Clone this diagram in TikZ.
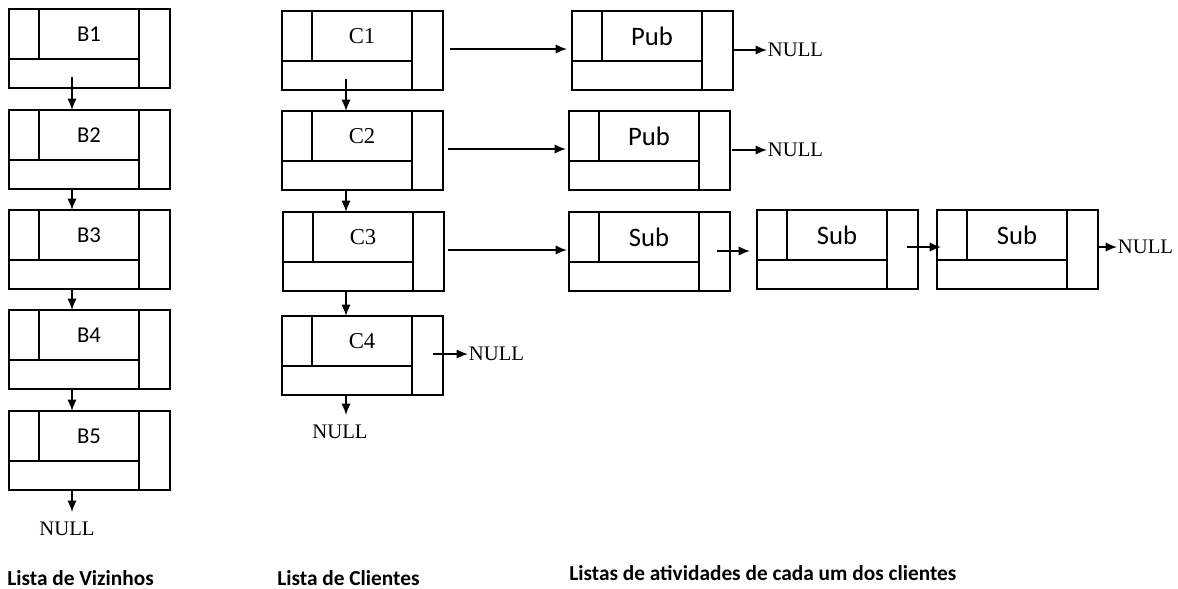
\documentclass[tikz,border=0pt]{standalone}
\usepackage{fontspec}
\setmainfont{Liberation Serif}
\newfontfamily\carlito{Carlito}
\usetikzlibrary{calc,arrows.meta}
\newcommand\listnode[5]{%
  \node[cellbox] (#1) at (#2,#3) {};
  \draw[divider] ($(#1.north west)+(30,0)$) -- ($(#1.north west)+(30,50)$);
  \draw[divider] ($(#1.north west)+(0,50)$) -- ($(#1.north west)+(130,50)$);
  \draw[divider] ($(#1.north west)+(130,0)$) -- ($(#1.south west)+(130,0)$);
  \node[#4] (#1t) at ($(#1.north west)+(80,25)$) {#5};
}
\begin{document}
\begin{tikzpicture}[x=0.75pt,y=-0.75pt,
  cellbox/.style={draw,line width=1.25pt,minimum width=120.75pt,minimum height=59.25pt,inner sep=0pt,outer sep=0pt,anchor=north west},
  divider/.style={line width=1.25pt},
  arr/.style={line width=1.3pt,-{Latex[length=8.5pt,width=7pt]}},
  btext/.style={font=\carlito\fontsize{17}{20}\selectfont,inner sep=0pt},
  ctext/.style={font=\fontsize{17}{20}\selectfont,inner sep=0pt},
  ptext/.style={font=\carlito\fontsize{20}{24}\selectfont,inner sep=0pt},
  nullr/.style={font=\fontsize{15.5}{18}\selectfont,inner sep=0.5pt,anchor=west},
  nulld/.style={font=\fontsize{15.5}{18}\selectfont,inner xsep=0pt,inner ysep=7pt,anchor=north},
  lbl/.style={font=\carlito\bfseries\fontsize{16}{19}\selectfont,anchor=base west,inner sep=0pt}
]
\useasboundingbox (0,0) rectangle (1178,589);

% Lista de Vizinhos
\listnode{b1}{9}{9}{btext}{B1}
\listnode{b2}{9}{110}{btext}{B2}
\listnode{b3}{9}{210}{btext}{B3}
\listnode{b4}{9}{310}{btext}{B4}
\listnode{b5}{9}{411}{btext}{B5}
\node[nulld] (nb) at (67,512) {NULL};

\draw[arr] ($(b1.south west)+(63,-11)$) -- ($(b2.north west)+(63,0)$);
\draw[arr] ($(b2.south west)+(63,0)$) -- ($(b3.north west)+(63,0)$);
\draw[arr] ($(b3.south west)+(63,0)$) -- ($(b4.north west)+(63,0)$);
\draw[arr] ($(b4.south west)+(63,0)$) -- ($(b5.north west)+(63,0)$);
\draw[arr] ($(b5.south west)+(63,0)$) coordinate (tb) -- (tb |- nb.north);

% Lista de Clientes
\listnode{c1}{282}{11}{ctext}{C1}
\listnode{c2}{282}{111}{ctext}{C2}
\listnode{c3}{283}{212}{ctext}{C3}
\listnode{c4}{282}{316}{ctext}{C4}
\node[nulld] (nc) at (340,415) {NULL};
\node[nullr] (nc4) at (468,354) {NULL};

\draw[arr] ($(c1.south west)+(64,-11)$) -- ($(c2.north west)+(64,0)$);
\draw[arr] ($(c2.south west)+(64,0)$) -- ($(c3.north west)+(63,0)$);
\draw[arr] ($(c3.south west)+(63,0)$) -- ($(c4.north west)+(64,0)$);
\draw[arr] ($(c4.south west)+(64,0)$) coordinate (tc) -- (tc |- nc.north);
\draw[arr] ($(c4.north east)+(-10,38)$) -- (nc4.west);

% Activity lists
\listnode{p1}{572}{11}{ptext}{Pub}
\listnode{p2}{569}{111}{ptext}{Pub}
\listnode{s1}{569}{212}{ptext}{Sub}
\listnode{s2}{757}{210}{ptext}{Sub}
\listnode{s3}{937}{210}{ptext}{Sub}
\node[nullr] (np1) at (767,50) {NULL};
\node[nullr] (np2) at (767,150) {NULL};
\node[nullr] (ns3) at (1117,247) {NULL};

\draw[arr] ($(c1.north east)+(7,38)$) -- ($(p1.north west)+(-5,38)$);
\draw[arr] ($(c2.north east)+(5,38)$) -- ($(p2.north west)+(-3,38)$);
\draw[arr] ($(c3.north east)+(4,38)$) -- ($(s1.north west)+(-2,38)$);
\draw[arr] ($(s1.north east)+(-13,39)$) coordinate (t1) -- ($(t1 -| s2.west)+(-7,0)$);
\draw[arr] ($(s2.north east)+(-11,37)$) coordinate (t2) -- ($(t2 -| s3.west)+(4,0)$);
\draw[arr] ($(p1.north east)+(-1,39)$) -- (np1.west);
\draw[arr] ($(p2.north east)+(2,39)$) -- (np2.west);
\draw[arr] ($(s3.north east)+(1,37)$) -- (ns3.west);

% captions
\node[lbl] (l1) at (7,585) {Lista de Vizinhos};
\node[lbl] (l2) at (277,585) {Lista de Clientes};
\node[lbl] (l3) at (569,580) {Listas de atividades de cada um dos clientes};
\end{tikzpicture}
\end{document}
